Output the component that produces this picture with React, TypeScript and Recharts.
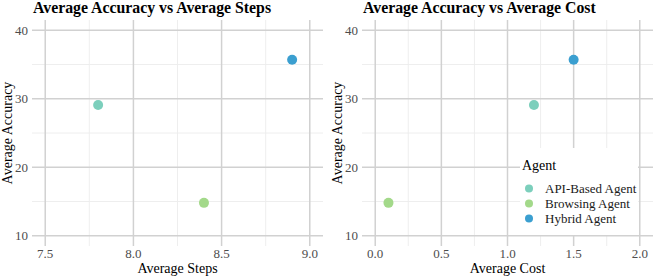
import React from 'react';
import { ScatterChart, Scatter, XAxis, YAxis, ReferenceLine } from 'recharts';

const agents = ['API-Based Agent', 'Browsing Agent', 'Hybrid Agent'];
const agentColors = ['#7ccfbc', '#a3d98a', '#3b9fd0'];
const avgSteps = [7.8, 8.4, 8.9];
const avgCost = [1.2, 0.1, 1.5];
const avgAccuracy = [29.1, 14.8, 35.7];

const accuracyTicks = [10, 20, 30, 40];
const accuracyMinor = [15, 25, 35];
const stepsTicks = [7.5, 8.0, 8.5, 9.0];
const stepsMinor = [7.75, 8.25, 8.75];
const costTicks = [0, 0.5, 1.0, 1.5, 2.0];
const costMinor = [0.25, 0.75, 1.25, 1.75];

const FONT = '"Times New Roman", "Liberation Serif", Tinos, "DejaVu Serif", serif';
const MAJOR = '#d1d1d1';
const MINOR = '#ececec';

const tickStyle = { fontSize: 13, fill: '#4d4d4d', fontFamily: FONT };

const dot = (color: string) => (p: any) => <circle cx={p.cx} cy={p.cy} r={5} fill={color} />;

function LegendBox() {
  return (
    <div
      style={{
        position: 'absolute',
        left: 520,
        top: 148,
        width: 118,
        height: 87,
        background: '#fff',
        fontFamily: FONT,
        boxSizing: 'border-box',
        paddingLeft: 2,
      }}
    >
      <div style={{ fontSize: 14, lineHeight: '14px', paddingTop: 11, color: '#000' }}>Agent</div>
      <div style={{ marginTop: 8 }}>
        {agents.map((name, i) => (
          <div key={name} style={{ display: 'flex', alignItems: 'center', height: 15 }}>
            <svg width={18} height={15}>
              <circle cx={7} cy={7.5} r={4} fill={agentColors[i]} />
            </svg>
            <span style={{ fontSize: 13, lineHeight: '15px', marginLeft: 5, color: '#1a1a1a' }}>{name}</span>
          </div>
        ))}
      </div>
    </div>
  );
}

function Panel({ xValues, xDomain, xTicks, xMinor, yAxisWidth, rightMargin }: any) {
  const series = agents.map((name, i) => ({ name, color: agentColors[i], data: [{ x: xValues[i], y: avgAccuracy[i] }] }));
  return (
    <ScatterChart width={327} height={278} margin={{ top: 20, right: rightMargin, bottom: 0, left: 0 }}>
      <XAxis
        type="number"
        dataKey="x"
        domain={xDomain}
        ticks={xTicks}
        allowDataOverflow
        axisLine={false}
        tickLine={false}
        tickSize={0}
        tickMargin={3}
        height={32}
        tick={tickStyle}
        tickFormatter={(v: number) => v.toFixed(1)}
        interval={0}
      />
      <YAxis
        type="number"
        dataKey="y"
        domain={[8.5, 41.5]}
        ticks={accuracyTicks}
        allowDataOverflow
        axisLine={false}
        tickLine={false}
        tickSize={0}
        tickMargin={4}
        width={yAxisWidth}
        tick={tickStyle}
        interval={0}
      />
      {accuracyMinor.map((v) => (
        <ReferenceLine key={'ym' + v} y={v} stroke={MINOR} strokeWidth={0.9} />
      ))}
      {xMinor.map((v: number) => (
        <ReferenceLine key={'xm' + v} x={v} stroke={MINOR} strokeWidth={0.9} />
      ))}
      {accuracyTicks.map((v) => (
        <ReferenceLine key={'y' + v} y={v} stroke={MAJOR} strokeWidth={1.5} />
      ))}
      {xTicks.map((v: number) => (
        <ReferenceLine key={'x' + v} x={v} stroke={MAJOR} strokeWidth={1.5} />
      ))}
      {series.map((s) => (
        <Scatter key={s.name} name={s.name} data={s.data} fill={s.color} shape={dot(s.color)} isAnimationActive={false} />
      ))}
    </ScatterChart>
  );
}

const titleStyle: React.CSSProperties = {
  position: 'absolute',
  top: 0,
  fontFamily: FONT,
  fontWeight: 'bold',
  fontSize: 15.8,
  lineHeight: '15px',
  color: '#000',
  whiteSpace: 'nowrap',
};

const axisTitle: React.CSSProperties = {
  position: 'absolute',
  fontFamily: FONT,
  fontSize: 14,
  lineHeight: '12px',
  color: '#000',
  whiteSpace: 'nowrap',
  textAlign: 'center',
};

export default function App() {
  return (
    <div style={{ position: 'absolute', left: 0, top: 0, width: 654, height: 278, background: '#fff', overflow: 'hidden' }}>
      <div style={{ position: 'absolute', left: 0, top: 0 }}>
        <Panel xValues={avgSteps} xDomain={[7.425, 9.075]} xTicks={stepsTicks} xMinor={stepsMinor} yAxisWidth={32} rightMargin={4} />
      </div>
      <div style={{ position: 'absolute', left: 327, top: 0 }}>
        <Panel xValues={avgCost} xDomain={[-0.1, 2.1]} xTicks={costTicks} xMinor={costMinor} yAxisWidth={35} rightMargin={1} />
      </div>
      <LegendBox />
      <div style={{ ...titleStyle, left: 33 }}>Average Accuracy vs Average Steps</div>
      <div style={{ ...titleStyle, left: 363 }}>Average Accuracy vs Average Cost</div>
      <div style={{ ...axisTitle, left: 77.5, width: 200, top: 263 }}>Average Steps</div>
      <div style={{ ...axisTitle, left: 407.5, width: 200, top: 263 }}>Average Cost</div>
      <div style={{ ...axisTitle, left: 8 - 100, width: 200, top: 127, transform: 'rotate(-90deg)' }}>Average Accuracy</div>
      <div style={{ ...axisTitle, left: 338 - 100, width: 200, top: 127, transform: 'rotate(-90deg)' }}>Average Accuracy</div>
    </div>
  );
}
